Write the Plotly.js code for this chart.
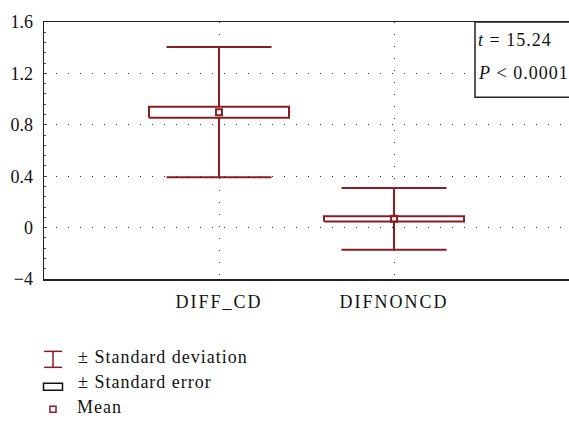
<!DOCTYPE html>
<html>
<head>
<meta charset="utf-8">
<script src="https://cdn.plot.ly/plotly-3.0.1.min.js"></script>
<style>
html,body{margin:0;padding:0;background:#fff;}
#chart .xtick text{letter-spacing:2px;}
#chart .annotation-text{letter-spacing:1px;}
</style>
</head>
<body>
<div id="chart" style="width:569px;height:421px;"></div>
<script>
// ---- Data ----
const categories = ["DIFF_CD", "DIFNONCD"];
const means = [0.898, 0.068];
const stdErrs = [0.043, 0.020];
const stdDevs = [0.507, 0.240];
const yTickVals = [-0.4, 0, 0.4, 0.8, 1.2, 1.6];
const yTickText = ["\u22124", "0", "0.4", "0.8", "1.2", "1.6"];
const statLines = ["<i>t</i> = 15.24", "<i>P</i> < 0.0001"];
const legendLabels = ["\u00B1 Standard deviation", "\u00B1 Standard error", "Mean"];

// ---- Style ----
const RED = "#8a1c24";
const FONT = "Liberation Serif";
const CAP = 0.30;   // half width of whisker caps (category units)
const BOX = 0.40;   // half width of SE box (category units)

// ---- Build traces from data ----
const wx = [], wy = [], bx = [], by = [];
categories.forEach((c, i) => {
  const m = means[i], se = stdErrs[i], sd = stdDevs[i];
  wx.push(i, i, null, i, i, null, i - CAP, i + CAP, null, i - CAP, i + CAP, null);
  wy.push(m + se, m + sd, null, m - se, m - sd, null, m + sd, m + sd, null, m - sd, m - sd, null);
  bx.push(i - BOX, i + BOX, i + BOX, i - BOX, i - BOX, null);
  by.push(m - se, m - se, m + se, m + se, m - se, null);
});
const idx = categories.map((c, i) => i);

const traces = [
  {x: wx, y: wy, mode: "lines", line: {color: RED, width: 2}, hoverinfo: "skip", showlegend: false},
  {x: bx, y: by, mode: "lines", fill: "toself", fillcolor: "#ffffff", line: {color: RED, width: 2}, hoverinfo: "skip", showlegend: false},
  {x: idx, y: means, mode: "markers", marker: {symbol: "square-open", size: 6, color: RED, line: {width: 2, color: RED}}, showlegend: false}
];

// ---- Layout helpers: pixel -> paper ----
const L = 44, R = 569, T = 22, B = 279.5;
const px = v => (v - L) / (R - L);
const py = v => (B - v) / (B - T);

const shapes = [
  {type: "rect", xref: "paper", yref: "paper", x0: px(475), x1: px(600), y0: py(97.5), y1: py(22),
   line: {color: "#222", width: 1.5}, fillcolor: "#ffffff", layer: "above"},
  {type: "line", xref: "paper", yref: "paper", x0: px(53), x1: px(53), y0: py(352), y1: py(368), line: {color: RED, width: 1.5}},
  {type: "line", xref: "paper", yref: "paper", x0: px(44), x1: px(62), y0: py(352), y1: py(352), line: {color: RED, width: 1.5}},
  {type: "line", xref: "paper", yref: "paper", x0: px(44), x1: px(62), y0: py(368), y1: py(368), line: {color: RED, width: 1.5}},
  {type: "rect", xref: "paper", yref: "paper", x0: px(43.5), x1: px(62.5), y0: py(391), y1: py(384), line: {color: "#111", width: 1.5}},
  {type: "rect", xref: "paper", yref: "paper", x0: px(50), x1: px(56), y0: py(413), y1: py(407), line: {color: RED, width: 1.5}}
];

const ann = (x, y, text) => ({xref: "paper", yref: "paper", x: px(x), y: py(y), xanchor: "left", yanchor: "middle",
  align: "left", showarrow: false, text: text});
const annotations = [
  ann(476, 40, statLines[0]),
  ann(476, 73, statLines[1]),
  ann(76, 358, legendLabels[0]),
  ann(76, 383, legendLabels[1]),
  ann(75, 408, legendLabels[2])
];

const layout = {
  width: 569, height: 421,
  margin: {l: L, r: 569 - R, t: T, b: 421 - B},
  paper_bgcolor: "#ffffff", plot_bgcolor: "#ffffff",
  showlegend: false,
  font: {family: FONT, size: 18, color: "#111"},
  xaxis: {
    range: [-1, 2], tickmode: "array", tickvals: idx, ticktext: categories,
    showgrid: true, gridcolor: "#333", gridwidth: 1, griddash: "1px,11px",
    zeroline: false, showline: true, mirror: true, linecolor: "#222", linewidth: 1.5,
    ticks: "", ticklabelstandoff: 6
  },
  yaxis: {
    range: [-0.4, 1.6], tickmode: "array", tickvals: yTickVals, ticktext: yTickText,
    showgrid: true, gridcolor: "#333", gridwidth: 1, griddash: "1px,11px",
    zeroline: false, showline: true, mirror: false, linecolor: "#222", linewidth: 1.5,
    ticks: "inside", ticklen: 3, tickcolor: "#444", ticklabelstandoff: 6,
    minor: {dtick: 0.08, ticks: "inside", ticklen: 2, tickcolor: "#555", showgrid: false}
  },
  shapes: shapes,
  annotations: annotations
};

Plotly.newPlot("chart", traces, layout, {displayModeBar: false, staticPlot: true});
</script>
</body>
</html>
